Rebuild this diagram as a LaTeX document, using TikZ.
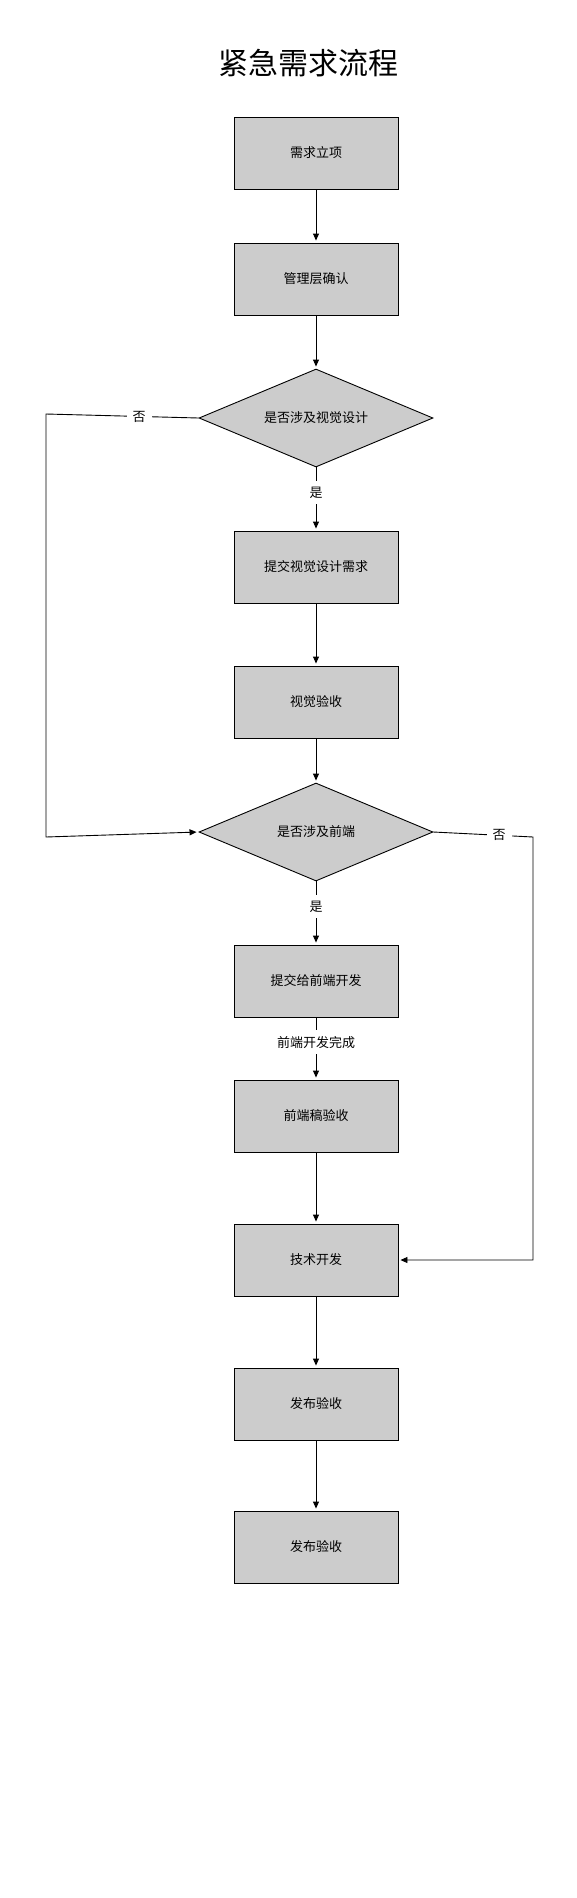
\documentclass[tikz,border=0pt]{standalone}
\usepackage{fontspec}
\setmainfont{Noto Sans CJK SC}
\usetikzlibrary{shapes.geometric,arrows.meta}
\definecolor{boxgray}{RGB}{204,204,204}

\begin{document}
\begin{tikzpicture}[x=1pt, y=1pt, line width=0.9pt, font=\fontsize{13}{15}\selectfont,
    box/.style = {draw, fill=boxgray, minimum width=164pt, minimum height=72pt, inner sep=0pt},
    decide/.style = {draw, fill=boxgray, diamond, aspect=2.4, minimum width=234pt, minimum height=98pt, inner sep=0pt},
    arr/.style = {-{Triangle[length=7pt, width=6pt]}, shorten >=2pt},
    lbl/.style = {midway, fill=white, inner sep=6pt}]
        \useasboundingbox (0,0) rectangle (576,-1898);
        \node (t) at (308,-63) {\fontsize{30}{36}\selectfont 紧急需求流程};
        \node[box] (1) at (316,-153) {需求立项};
        \node[box] (2) [node distance=126pt, below of=1] {管理层确认};
        \node[decide] (3) [node distance=139pt, below of=2] {是否涉及视觉设计};
        \node[box] (4) [node distance=149pt, below of=3] {提交视觉设计需求};
        \node[box] (5) [node distance=135pt, below of=4] {视觉验收};
        \node[decide] (6) [node distance=130pt, below of=5] {是否涉及前端};
        \node[box] (7) [node distance=149pt, below of=6] {提交给前端开发};
        \node[box] (8) [node distance=135pt, below of=7] {前端稿验收};
        \node[box] (9) [node distance=144pt, below of=8] {技术开发};
        \node[box] (10) [node distance=144pt, below of=9] {发布验收};
        \node[box] (11) [node distance=143pt, below of=10] {发布验收};
        \coordinate (a) at (46,-414);
        \coordinate (b) at (46,-837);
        \coordinate (c) at (533,-837);
        \draw[arr] (1) -- (2);
        \draw[arr] (2) -- (3);
        \draw[arr] (3) -- node[lbl, pos=0.4] {是} (4);
        \draw[arr] (4) -- (5);
        \draw[arr] (5) -- (6);
        \draw[arr] (6) -- node[lbl, pos=0.4] {是} (7);
        \draw[arr] (7) -- node[lbl, pos=0.4] {前端开发完成} (8);
        \draw[arr] (8) -- (9);
        \draw[arr] (9) -- (10);
        \draw[arr] (10) -- (11);
        \draw[arr] (3.west) -- node[lbl, pos=0.39] {否} (a) -- (b) -- (6.west);
        \draw[arr] (6.east) -- node[lbl, pos=0.66] {否} (c) |- (9.east);
    \end{tikzpicture}
\end{document}
